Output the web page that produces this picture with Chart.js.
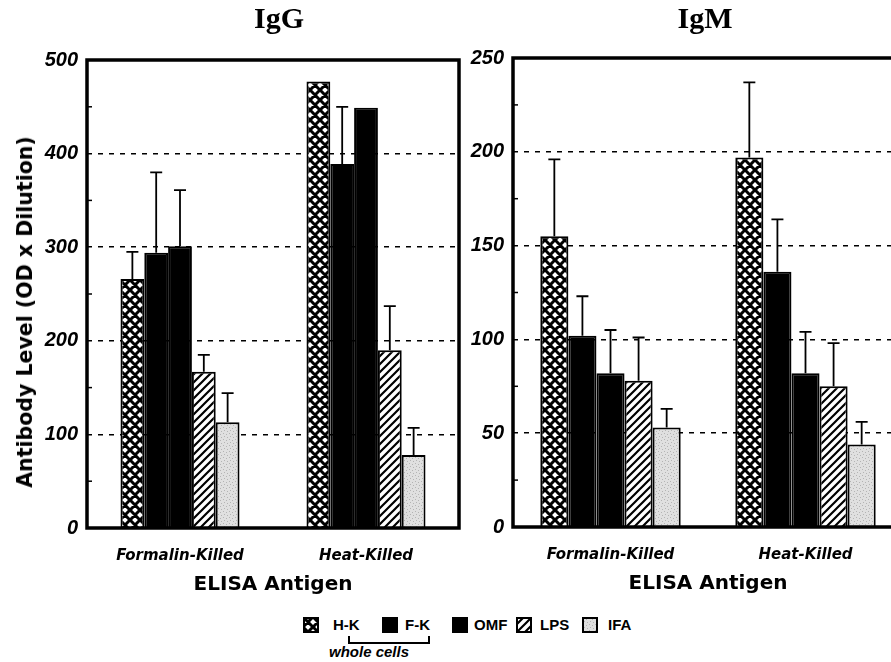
<!DOCTYPE html>
<html>
<head>
<meta charset="utf-8">
<script src="https://cdn.jsdelivr.net/npm/chart.js@4"></script>
<style>
  html, body { margin: 0; padding: 0; background: #fff; }
  body { width: 891px; height: 662px; overflow: hidden; position: relative; font-family: 'Liberation Sans', Arial, sans-serif; }
  canvas { position: absolute; top: 0; }
  .title { position: absolute; top: 0; width: 120px; margin-left: -60px; text-align: center;
           font: bold 30px/36px 'Liberation Serif', serif; color: #000; }
  .ytitle { position: absolute; left: 25px; top: 312px; white-space: nowrap;
            transform: translate(-50%, -50%) rotate(-90deg);
            font: bold 20.5px/24px 'DejaVu Sans', sans-serif; color: #000; }
  .sw { position: absolute; top: 617px; width: 16px; height: 16px; }
  .lt { position: absolute; top: 617px; font: bold 15px/16px 'Liberation Sans', sans-serif; color: #000; }
</style>
</head>
<body>
<canvas id="iggChart" width="470" height="600" style="left:0"></canvas>
<canvas id="igmChart" width="446" height="600" style="left:465px"></canvas>
<div class="title" style="left:279px">IgG</div>
<div class="title" style="left:705px">IgM</div>
<div class="ytitle">Antibody Level (OD x Dilution)</div>
<div id="legend"></div>
<div style="position:absolute;left:348px;top:636px;width:78px;height:6px;border:2px solid #000;border-top:none"></div>
<div style="position:absolute;left:309px;top:644px;width:120px;text-align:center;font:italic bold 15px/16px 'Liberation Sans',sans-serif">whole cells</div>
<script>
// categories and series
const groups = ['Formalin-Killed', 'Heat-Killed'];
const seriesNames = ['H-K', 'F-K', 'OMF', 'LPS', 'IFA'];

// IgG means and upper error (SD)
const iggHK = [266, 477];
const iggFK = [294, 389];
const iggOMF = [301, 449];
const iggLPS = [167, 190];
const iggIFA = [113, 78];
const iggHKErr = [29, 0];
const iggFKErr = [86, 61];
const iggOMFErr = [60, 0];
const iggLPSErr = [18, 47];
const iggIFAErr = [31, 29];

// IgM means and upper error (SD)
const igmHK = [155, 197];
const igmFK = [102, 136];
const igmOMF = [82, 82];
const igmLPS = [78, 75];
const igmIFA = [53, 44];
const igmHKErr = [41, 40];
const igmFKErr = [21, 28];
const igmOMFErr = [23, 22];
const igmLPSErr = [23, 23];
const igmIFAErr = [10, 12];

// axis ticks
const iggTicks = [0, 100, 200, 300, 400, 500];
const igmTicks = [0, 50, 100, 150, 200, 250];

function makePattern(kind) {
  const c = document.createElement('canvas');
  const g = c.getContext('2d');
  if (kind === 'cross') {
    c.width = c.height = 10;
    g.fillStyle = '#fff';
    g.fillRect(0, 0, 10, 10);
    g.strokeStyle = '#000';
    g.lineWidth = 3;
    g.beginPath();
    for (let k = -1; k <= 1; k++) {
      g.moveTo(k * 10 - 2, -2); g.lineTo(k * 10 + 12, 12);
      g.moveTo(k * 10 - 2, 12); g.lineTo(k * 10 + 12, -2);
    }
    g.stroke();
  } else if (kind === 'hatch') {
    c.width = c.height = 8;
    g.fillStyle = '#fff';
    g.fillRect(0, 0, 8, 8);
    g.strokeStyle = '#000';
    g.lineWidth = 2.2;
    g.beginPath();
    for (let k = -1; k <= 1; k++) {
      g.moveTo(k * 8 - 2, 10); g.lineTo(k * 8 + 10, -2);
    }
    g.stroke();
  } else if (kind === 'stipple') {
    c.width = c.height = 6;
    g.fillStyle = '#e0e0e0';
    g.fillRect(0, 0, 6, 6);
    g.fillStyle = '#b4b4b4';
    [[1, 1], [4, 2], [2, 4], [5, 5]].forEach(p => g.fillRect(p[0], p[1], 1, 1));
  } else {
    return '#000';
  }
  return g.createPattern(c, 'repeat');
}

const fillKinds = ['cross', 'solid', 'solid', 'hatch', 'stipple'];
const fills = fillKinds.map(makePattern);

const font = (family, size, style) => ({ family: family, weight: 'bold', style: style || 'normal', size: size });

const errorBars = {
  id: 'errorBars',
  afterDatasetsDraw(chart) {
    const ctx = chart.ctx;
    const y = chart.scales.y;
    ctx.save();
    ctx.strokeStyle = '#000';
    ctx.lineWidth = 1.8;
    chart.data.datasets.forEach((ds, di) => {
      chart.getDatasetMeta(di).data.forEach((bar, j) => {
        const e = ds.errors[j];
        if (!e) return;
        const top = y.getPixelForValue(ds.data[j] + e);
        ctx.beginPath();
        ctx.moveTo(bar.x, bar.y);
        ctx.lineTo(bar.x, top);
        ctx.moveTo(bar.x - 6, top);
        ctx.lineTo(bar.x + 6, top);
        ctx.stroke();
      });
    });
    ctx.restore();
  }
};

const frame = {
  id: 'frame',
  afterDraw(chart, args, opts) {
    const { ctx, chartArea: a } = chart;
    const y = chart.scales.y;
    ctx.save();
    ctx.strokeStyle = '#000';
    ctx.lineWidth = 1.5;
    y.ticks.forEach(t => {
      if (opts.major.includes(t.value)) return;
      const py = y.getPixelForValue(t.value);
      ctx.beginPath();
      ctx.moveTo(a.left, py);
      ctx.lineTo(a.left + 5, py);
      ctx.stroke();
    });
    ctx.lineWidth = 3.5;
    ctx.strokeRect(a.left, a.top, a.right - a.left, a.bottom - a.top);
    ctx.restore();
  }
};

function buildChart(id, series, errors, ticks, minorStep, yWidth, pad, catPct) {
  const max = ticks[ticks.length - 1];
  return new Chart(document.getElementById(id), {
    type: 'bar',
    data: {
      labels: groups,
      datasets: seriesNames.map((name, i) => ({
        label: name,
        data: series[i],
        errors: errors[i],
        backgroundColor: fills[i],
        borderColor: '#000',
        borderWidth: 2,
        barPercentage: 1,
        categoryPercentage: catPct
      }))
    },
    options: {
      responsive: false,
      animation: false,
      layout: { padding: pad },
      plugins: {
        legend: { display: false },
        tooltip: { enabled: false },
        frame: { major: ticks }
      },
      scales: {
        x: {
          grid: { display: false },
          border: { display: false },
          ticks: { color: '#000', font: font('DejaVu Sans', 15, 'italic'), padding: 11, maxRotation: 0 },
          title: { display: true, text: 'ELISA Antigen', color: '#000', font: font('DejaVu Sans', 20), padding: { top: 0, bottom: 1 } },
          afterFit: s => { s.height = 70; }
        },
        y: {
          min: 0,
          max: max,
          grid: {
            drawTicks: false,
            lineWidth: 1.5,
            color: c => (ticks.includes(c.tick.value) && c.tick.value > 0 && c.tick.value < max) ? '#000' : 'rgba(0,0,0,0)'
          },
          border: { display: false, dash: [5, 6] },
          ticks: {
            stepSize: minorStep,
            color: '#000',
            font: font('Liberation Sans', 20, 'italic'),
            padding: 9,
            callback: v => ticks.includes(v) ? v : ''
          },
          afterFit: s => { s.width = yWidth; }
        }
      }
    },
    plugins: [errorBars, frame]
  });
}

buildChart('iggChart',
  [iggHK, iggFK, iggOMF, iggLPS, iggIFA],
  [iggHKErr, iggFKErr, iggOMFErr, iggLPSErr, iggIFAErr],
  iggTicks, 50, 87, { top: 60, right: 11, bottom: 2, left: 0 }, 0.64);

buildChart('igmChart',
  [igmHK, igmFK, igmOMF, igmLPS, igmIFA],
  [igmHKErr, igmFKErr, igmOMFErr, igmLPSErr, igmIFAErr],
  igmTicks, 25, 48, { top: 58, right: 8, bottom: 3, left: 0 }, 0.72);

// legend
const legendPos = [[303, 333], [382, 405], [452, 474], [516, 540], [582, 608]];
const legend = document.getElementById('legend');
seriesNames.forEach((name, i) => {
  const sw = document.createElement('canvas');
  sw.className = 'sw';
  sw.width = 16; sw.height = 16;
  sw.style.left = legendPos[i][0] + 'px';
  const g = sw.getContext('2d');
  g.fillStyle = fills[i];
  g.fillRect(0, 0, 16, 16);
  g.strokeStyle = '#000';
  g.lineWidth = 2;
  g.strokeRect(1, 1, 14, 14);
  legend.appendChild(sw);
  const t = document.createElement('div');
  t.className = 'lt';
  t.style.left = legendPos[i][1] + 'px';
  t.textContent = name;
  legend.appendChild(t);
});
</script>
</body>
</html>
